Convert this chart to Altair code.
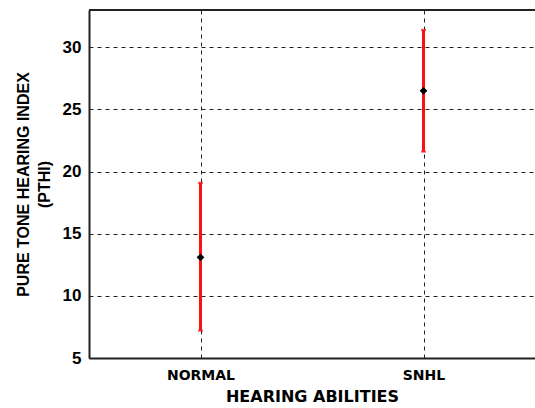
import altair as alt
import pandas as pd

groups = ["NORMAL", "SNHL"]
means = [13.1, 26.5]
lowers = [7.2, 21.6]
uppers = [19.1, 31.4]

df = pd.DataFrame({"group": groups, "mean": means, "lo": lowers, "hi": uppers})

FONT = "Liberation Sans"
XFONT = "DejaVu Sans"

x_enc = alt.X(
    "group:N",
    sort=groups,
    scale=alt.Scale(type="point", padding=0.5),
    axis=alt.Axis(
        title="HEARING ABILITIES",
        titleFontSize=16,
        titleFontWeight="bold",
        titleFont=XFONT,
        titleColor="black",
        titlePadding=6,
        labelFontSize=14,
        labelFontWeight="bold",
        labelFont=XFONT,
        labelColor="black",
        labelAngle=0,
        labelPadding=10,
        ticks=False,
        domainColor="#222",
        domainWidth=2,
        grid=True,
        gridColor="#222",
        gridDash=[4, 4],
        gridWidth=1,
    ),
)

y_scale = alt.Scale(domain=[5, 33], nice=False, zero=False)
y_axis = alt.Axis(
    title=["PURE TONE HEARING INDEX", "(PTHI)"],
    titleFontSize=16,
    titleFontWeight="bold",
    titleFont=FONT,
    titleColor="black",
    titlePadding=10,
    titleLineHeight=21,
    labelFontSize=17,
    labelFontWeight="bold",
    labelFont=FONT,
    labelColor="black",
    labelPadding=8,
    ticks=False,
    values=[5, 10, 15, 20, 25, 30],
    domainColor="#222",
    domainWidth=2,
    grid=True,
    gridColor="#222",
    gridDash=[4, 4],
    gridWidth=1,
)

base = alt.Chart(df)

bars = base.mark_rule(color="#ff1010", strokeWidth=3).encode(
    x=x_enc,
    y=alt.Y("lo:Q", scale=y_scale, axis=y_axis),
    y2="hi:Q",
)

caps_hi = base.mark_tick(color="#ff1010", size=5, thickness=2, orient="horizontal").encode(
    x=alt.X("group:N", sort=groups), y=alt.Y("hi:Q")
)
caps_lo = base.mark_tick(color="#ff1010", size=5, thickness=2, orient="horizontal").encode(
    x=alt.X("group:N", sort=groups), y=alt.Y("lo:Q")
)

points = base.mark_point(shape="diamond", filled=True, color="black", size=60, opacity=1).encode(
    x=alt.X("group:N", sort=groups), y=alt.Y("mean:Q")
)

# top frame line of the plot area
top_frame = base.mark_rule(color="#222", strokeWidth=2).encode(
    x=alt.value(0), x2=alt.value(446), y=alt.value(0)
)

chart = (
    alt.layer(bars, caps_hi, caps_lo, points, top_frame)
    .properties(
        width=446,
        height=348,
        autosize=alt.AutoSizeParams(type="none"),
        padding={"left": 89, "top": 10, "right": 0, "bottom": 50},
    )
    .configure_view(stroke=None)
    .configure(background="white")
)

chart.save("out.html", embed_options={"renderer": "svg", "actions": False})
